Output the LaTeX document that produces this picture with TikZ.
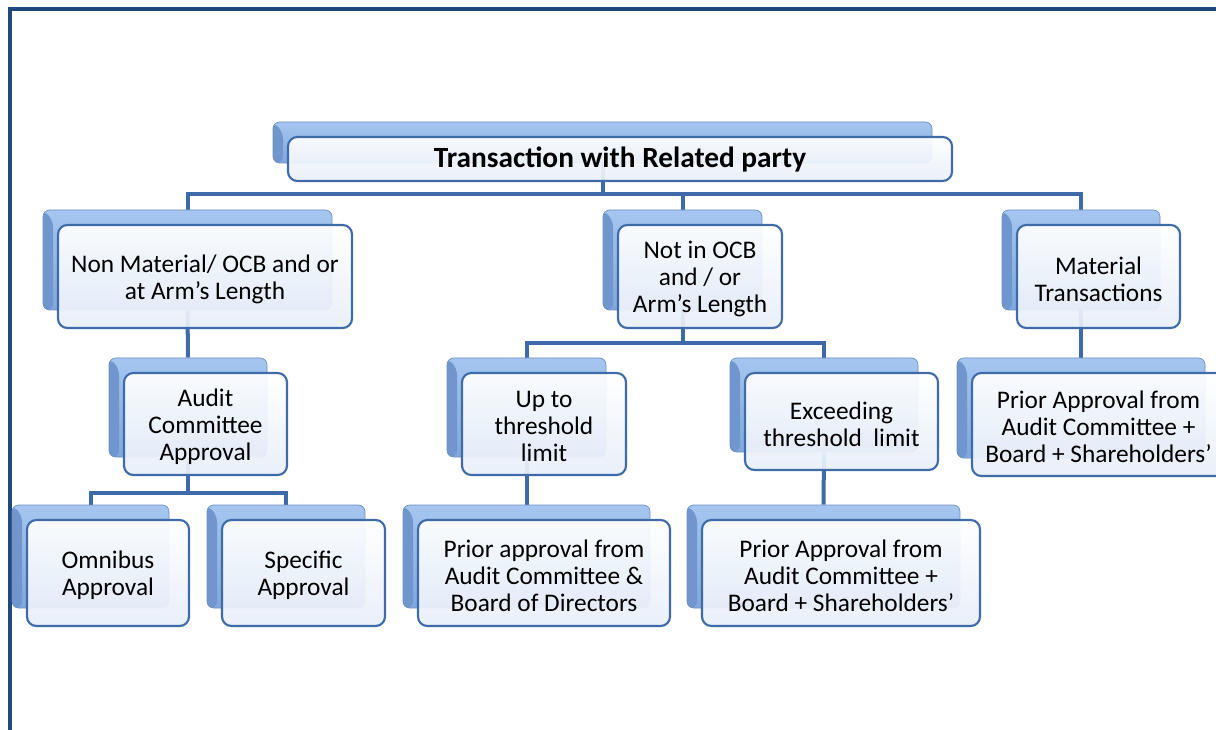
\documentclass[tikz,border=0pt]{standalone}
\usepackage{fontspec}
\setmainfont{Carlito}
\usetikzlibrary{fit,backgrounds}
\definecolor{conncol}{RGB}{62,106,170}
\definecolor{framecol}{RGB}{31,73,125}
\definecolor{backtop}{RGB}{165,198,240}
\definecolor{backbot}{RGB}{128,168,222}
\definecolor{bevelcol}{RGB}{112,150,205}
\definecolor{frontborder}{RGB}{63,108,168}
\definecolor{frontbot}{RGB}{232,239,249}
\tikzset{
  backbox/.style={rectangle, rounded corners=5pt, inner sep=0pt,
    top color=backtop, bottom color=backbot, draw=backbot!85!black, line width=0.5pt,
    path picture={\fill[bevelcol] (path picture bounding box.north west) -- ++(10,10)
      |- (path picture bounding box.south west) -- cycle;}},
  frontbox/.style={rectangle, rounded corners=7pt, inner sep=0pt,
    draw=frontborder, line width=1.6pt, top color=white, bottom color=frontbot,
    fill opacity=0.93},
  lbl/.style={inner sep=0pt, align=center, anchor=center, yshift=-2pt,
    font=\fontsize{19}{20.3}\selectfont},
  titlebox/.style={yshift=2pt, font=\fontsize{22}{24}\selectfont\bfseries},
  conn/.style={draw=conncol, line width=3pt},
  frameline/.style={draw=framecol, line width=2.3pt}
}
\newcommand\bx[7][]{%
  \node[backbox, fit={(#3-15,#4-15) (#5-20,#6-18)}] (#2-b) {};
  \node[frontbox, fit={(#3,#4) (#5,#6)}] (#2) {};
  \node[lbl, #1] (#2-l) at (#2.center) {#7};
}
\begin{document}
\begin{tikzpicture}[x=0.75pt,y=-0.75pt]
\useasboundingbox (0,0) rectangle (1216,730);
\clip (0,0) rectangle (1216,730);
\draw[frameline] (1230,9) -- (10,9) -- (10,740);

\coordinate (bus1) at (0,194);
\coordinate (bus2) at (0,343);
\coordinate (bus3) at (0,493);

\bx[titlebox]{t}{288}{137}{952}{181}{Transaction with Related party}

\bx{nm}{58}{225}{352}{328}{Non Material/ OCB and or\\at Arm’s Length}
\bx{noc}{618}{225}{782}{328}{Not in OCB\\and / or\\Arm’s Length}
\bx{mat}{1017}{225}{1180}{328}{Material\\Transactions}

\bx{ac}{124}{373}{287}{475}{Audit\\Committee\\Approval}
\bx{up}{462}{373}{626}{475}{Up to\\threshold\\limit}
\bx{ex}{745}{373}{938}{470}{Exceeding\\threshold\ \ limit}
\bx{pr}{972}{373}{1225}{476}{Prior Approval from\\Audit Committee +\\Board + Shareholders’}

\bx{om}{27}{520}{189}{626}{Omnibus\\Approval}
\bx{sp}{222}{520}{385}{626}{Specific\\Approval}
\bx{pa}{418}{520}{670}{626}{Prior approval from\\Audit Committee \&\\Board of Directors}
\bx{ps}{702}{520}{980}{626}{Prior Approval from\\Audit Committee +\\Board + Shareholders’}

\begin{scope}[on background layer]
\fill[white] (0,0) rectangle (1216,730);
\draw[conn] (t-b.south) -- (t-b.south |- bus1);
\draw[conn] (nm-b.north) |- (mat-b.north |- bus1) -- (mat-b.north);
\draw[conn] (noc-b.north) -- (noc-b.north |- bus1);

\draw[conn] (nm-b.south) -- (ac-b.north);
\draw[conn] (noc-b.south) -- (noc-b.south |- bus2);
\draw[conn] (up-b.north) |- (ex-b.north |- bus2) -- (ex-b.north);
\draw[conn] (mat-b.south) -- (pr-b.north);

\draw[conn] (ac-b.south) -- (ac-b.south |- bus3);
\draw[conn] (om-b.north) |- (sp-b.north |- bus3) -- (sp-b.north);
\draw[conn] (up-b.south) -- (pa-b.north);
\draw[conn] (ex-b.south) -- (ps-b.north);
\end{scope}
\end{tikzpicture}
\end{document}
